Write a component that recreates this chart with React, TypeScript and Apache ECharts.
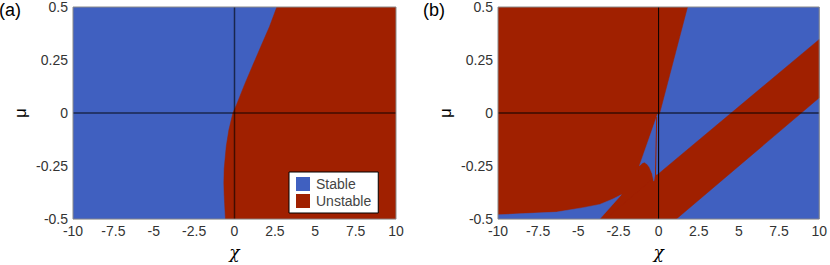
import React, { useEffect, useRef } from "react";
import * as echarts from "echarts";

// ---- data (chi, mu) ----
const xTicks = [-10, -7.5, -5, -2.5, 0, 2.5, 5, 7.5, 10];
const yTicks = [-0.5, -0.25, 0, 0.25, 0.5];
const legendNames = ["Stable", "Unstable"];

// Panel (a): unstable region (right of boundary)
const aUnstable: number[][] = [
  [2.62, 0.5], [2.17, 0.408], [1.65, 0.317], [1.13, 0.225], [0.62, 0.134],
  [0.14, 0.042], [-0.1, 0], [-0.35, -0.08], [-0.51, -0.157], [-0.64, -0.263],
  [-0.66, -0.33], [-0.64, -0.385], [-0.56, -0.5], [10, -0.5], [10, 0.5],
];
const aStable: number[][] = [[-10, 0.5], [10, 0.5], [10, -0.5], [-10, -0.5]];

// Panel (b)
const bStable: number[][] = [[-10, 0.5], [10, 0.5], [10, -0.5], [-10, -0.5]];
const bUnstableMain: number[][] = [
  [-10, 0.5], [1.8, 0.5], [0.07, 0.0], [0, -0.01], [0, -0.5], [-10, -0.5],
];
const bUnstableBand: number[][] = [
  [-3.3, -0.5], [1.1, -0.5], [10, 0.072], [10, 0.347], [0, -0.286],
];
const bStableSliver: number[][] = [
  [-10, -0.5], [-10, -0.48], [-8.41, -0.474], [-6.35, -0.467], [-4.7, -0.446],
  [-3.67, -0.431], [-2.84, -0.405], [-2.32, -0.385], [-3.67, -0.5],
];
const bStableWedge: number[][] = [
  [-0.06, -0.005], [-1.19, -0.248], [-1.0, -0.235], [-0.88, -0.232], [-0.7, -0.242],
  [-0.57, -0.256], [-0.4, -0.286], [-0.3, -0.321], [-0.24, -0.3], [-0.15, -0.29],
  [0, -0.286], [0, -0.01],
];
const bUnstableThin: number[][] = [[-0.12, -0.019], [-0.2, -0.309]];

const zeroH: number[][] = [[-10, 0], [10, 0]];
const zeroV: number[][] = [[0, -0.5], [0, 0.5]];

const BLUE = "#4060C0";
const RED = "#A02000";
const FONT = "'Liberation Sans', Arial, sans-serif";

function polySeries(name: string, pts: number[][], color: string, gi: number) {
  return {
    type: "custom",
    name,
    xAxisIndex: gi,
    yAxisIndex: gi,
    silent: true,
    clip: true,
    itemStyle: { color },
    data: pts,
    renderItem: (params: any, api: any) => {
      if (params.dataIndex !== 0) return null;
      const points = pts.map((p) => api.coord(p));
      return { type: "polygon", shape: { points }, style: { fill: color, stroke: color, lineWidth: 0.5 } };
    },
  };
}

function lineSeries(pts: number[][], color: string, width: number, gi: number, name = "") {
  return {
    type: "line",
    name,
    xAxisIndex: gi,
    yAxisIndex: gi,
    silent: true,
    showSymbol: false,
    symbol: "none",
    data: pts,
    lineStyle: { color, width },
    z: 3,
  };
}

function xAxisDef(gi: number) {
  return {
    type: "value",
    gridIndex: gi,
    min: xTicks[0],
    max: xTicks[xTicks.length - 1],
    interval: xTicks[1] - xTicks[0],
    name: "χ",
    nameLocation: "middle",
    nameGap: 22,
    nameTextStyle: { fontSize: 17, color: "#000", fontFamily: "'DejaVu Serif', serif", fontStyle: "italic" },
    axisLine: { show: false },
    axisTick: { show: false },
    splitLine: { show: false },
    axisLabel: { fontSize: 14, color: "#333", fontFamily: FONT, margin: 5, showMinLabel: true, showMaxLabel: true },
  };
}

function yAxisDef(gi: number) {
  return {
    type: "value",
    gridIndex: gi,
    min: yTicks[0],
    max: yTicks[yTicks.length - 1],
    interval: yTicks[1] - yTicks[0],
    name: "μ",
    nameLocation: "middle",
    nameRotate: 90,
    nameGap: 44,
    nameTextStyle: { fontSize: 17, color: "#000", fontFamily: FONT },
    axisLine: { show: false },
    axisTick: { show: false },
    splitLine: { show: false },
    axisLabel: { fontSize: 14, color: "#333", fontFamily: FONT, margin: 5, showMinLabel: true, showMaxLabel: true },
  };
}

export default function App() {
  const ref = useRef<HTMLDivElement>(null);
  useEffect(() => {
    if (!ref.current) return;
    const chart = echarts.init(ref.current, null, { renderer: "svg" });
    chart.setOption({
      animation: false,
      backgroundColor: "#fff",
      title: [
        { text: "(a)", left: -1, top: 1, padding: 0, textStyle: { fontSize: 18, fontWeight: "normal", color: "#000", fontFamily: FONT } },
        { text: "(b)", left: 423, top: 1, padding: 0, textStyle: { fontSize: 18, fontWeight: "normal", color: "#000", fontFamily: FONT } },
      ],
      grid: [
        { left: 73, top: 7, width: 323, height: 218, show: true, borderColor: "#8a8a8a", borderWidth: 1, backgroundColor: "transparent", z: 10 },
        { left: 498, top: 7, width: 323, height: 218, show: true, borderColor: "#8a8a8a", borderWidth: 1, backgroundColor: "transparent", z: 10 },
      ],
      xAxis: [xAxisDef(0), xAxisDef(1)],
      yAxis: [yAxisDef(0), yAxisDef(1)],
      legend: {
        left: 289,
        top: 172,
        orient: "vertical",
        icon: "rect",
        itemWidth: 14,
        itemHeight: 14,
        itemGap: 3,
        padding: [5, 7, 5, 7],
        backgroundColor: "#fff",
        borderColor: "#000",
        borderWidth: 1,
        selectedMode: false,
        textStyle: { fontSize: 14, color: "#444", fontFamily: FONT, padding: [0, 0, 0, 1] },
        data: [
          { name: legendNames[0], itemStyle: { color: BLUE } },
          { name: legendNames[1], itemStyle: { color: RED } },
        ],
        z: 20,
      },
      series: [
        polySeries(legendNames[0], aStable, BLUE, 0),
        polySeries(legendNames[1], aUnstable, RED, 0),
        lineSeries(zeroH, "rgba(0,0,0,0.6)", 1.5, 0),
        lineSeries(zeroV, "rgba(0,0,0,0.6)", 1.5, 0),
        polySeries(legendNames[0], bStable, BLUE, 1),
        polySeries(legendNames[1], bUnstableMain, RED, 1),
        polySeries(legendNames[1], bUnstableBand, RED, 1),
        polySeries(legendNames[0], bStableSliver, BLUE, 1),
        polySeries(legendNames[0], bStableWedge, BLUE, 1),
        lineSeries(bUnstableThin, RED, 1, 1),
        lineSeries(zeroH, "rgba(0,0,0,0.65)", 1.5, 1),
        lineSeries(zeroV, "#000", 1, 1),
      ],
    });
    return () => chart.dispose();
  }, []);
  return (
    <div
      ref={ref}
      style={{ position: "fixed", left: 0, top: 0, width: 830, height: 265 }}
    />
  );
}
